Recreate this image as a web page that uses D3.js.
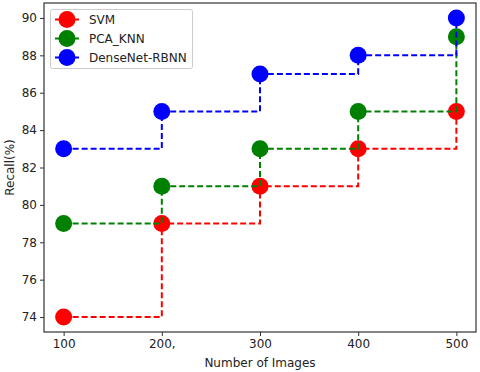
<!DOCTYPE html>
<html><head><meta charset="utf-8">
<script src="https://cdn.jsdelivr.net/npm/d3@7"></script>
<style>body{margin:0;background:#fff}svg{display:block;font-family:"DejaVu Sans",sans-serif}</style>
</head><body><svg id="c" width="480" height="372"></svg>
<script>
const xValues = [100, 200, 300, 400, 500];
const xTickLabels = ["100", "200,", "300", "400", "500"];
const yTicks = [74, 76, 78, 80, 82, 84, 86, 88, 90];
const seriesNames = ["SVM", "PCA_KNN", "DenseNet-RBNN"];
const seriesColors = ["#ff0000", "#008000", "#0000ff"];
const svmValues = [74, 79, 81, 83, 85];
const pcaKnnValues = [79, 81, 83, 85, 89];
const denseNetValues = [83, 85, 87, 88, 90];
const allSeries = [svmValues, pcaKnnValues, denseNetValues];

const svg = d3.select("#c");
const L = 44, R = 476, T = 3, B = 332;
const x = d3.scaleLinear().domain([80, 520]).range([L, R]);
const y = d3.scaleLinear().domain([73.2, 90.8]).range([B, T]);
const axisColor = "#333";

// series
const line = d3.line().x((d, i) => x(xValues[i])).y(d => y(d)).curve(d3.curveStepAfter);
allSeries.forEach((vals, s) => {
  const g = svg.append("g");
  g.append("path").attr("d", line(vals)).attr("fill", "none")
    .attr("stroke", seriesColors[s]).attr("stroke-width", 2).attr("stroke-dasharray", "6,3");
  g.selectAll("circle").data(vals).join("circle")
    .attr("cx", (d, i) => x(xValues[i])).attr("cy", d => y(d)).attr("r", 8.5)
    .attr("fill", seriesColors[s]);
});

// axes
const xAxis = d3.axisBottom(x).tickValues(xValues).tickFormat((d, i) => xTickLabels[i]).tickSize(4).tickSizeOuter(0);
const yAxis = d3.axisLeft(y).tickValues(yTicks).tickSize(4).tickSizeOuter(0);
const gx = svg.append("g").attr("transform", `translate(0,${B})`).call(xAxis);
const gy = svg.append("g").attr("transform", `translate(${L},0)`).call(yAxis);
[gx, gy].forEach(g => {
  g.select(".domain").remove();
  g.selectAll("line").attr("stroke", axisColor);
  g.selectAll("text").attr("fill", "#222").style("font-size", "12px").style("font-family", "DejaVu Sans");
});
gx.selectAll("text").attr("dy", "0.71em").attr("y", 7);
gy.selectAll("text").attr("x", -7);
svg.append("rect").attr("x", L).attr("y", T).attr("width", R - L).attr("height", B - T)
  .attr("fill", "none").attr("stroke", axisColor).attr("stroke-width", 1.2);

// labels
svg.append("text").attr("x", (L + R) / 2).attr("y", 367).attr("text-anchor", "middle")
  .style("font-size", "12px").attr("fill", "#222").text("Number of Images");
svg.append("text").attr("transform", `translate(14,${(T + B) / 2}) rotate(-90)`).attr("text-anchor", "middle")
  .style("font-size", "12px").attr("fill", "#222").text("Recall(%)");

// legend
const lg = svg.append("g");
lg.append("rect").attr("x", 50.5).attr("y", 9.5).attr("width", 142).attr("height", 59).attr("rx", 2)
  .attr("fill", "#fff").attr("fill-opacity", 0.8).attr("stroke", "#ccc");
seriesNames.forEach((n, i) => {
  const yy = 19.5 + i * 19;
  lg.append("line").attr("x1", 55).attr("x2", 79).attr("y1", yy).attr("y2", yy)
    .attr("stroke", seriesColors[i]).attr("stroke-width", 2).attr("stroke-dasharray", "6,3");
  lg.append("circle").attr("cx", 67).attr("cy", yy).attr("r", 8.5).attr("fill", seriesColors[i]);
  lg.append("text").attr("x", 89).attr("y", yy).attr("dy", "0.35em").style("font-size", "12px")
    .attr("fill", "#222").text(n);
});
</script></body></html>
